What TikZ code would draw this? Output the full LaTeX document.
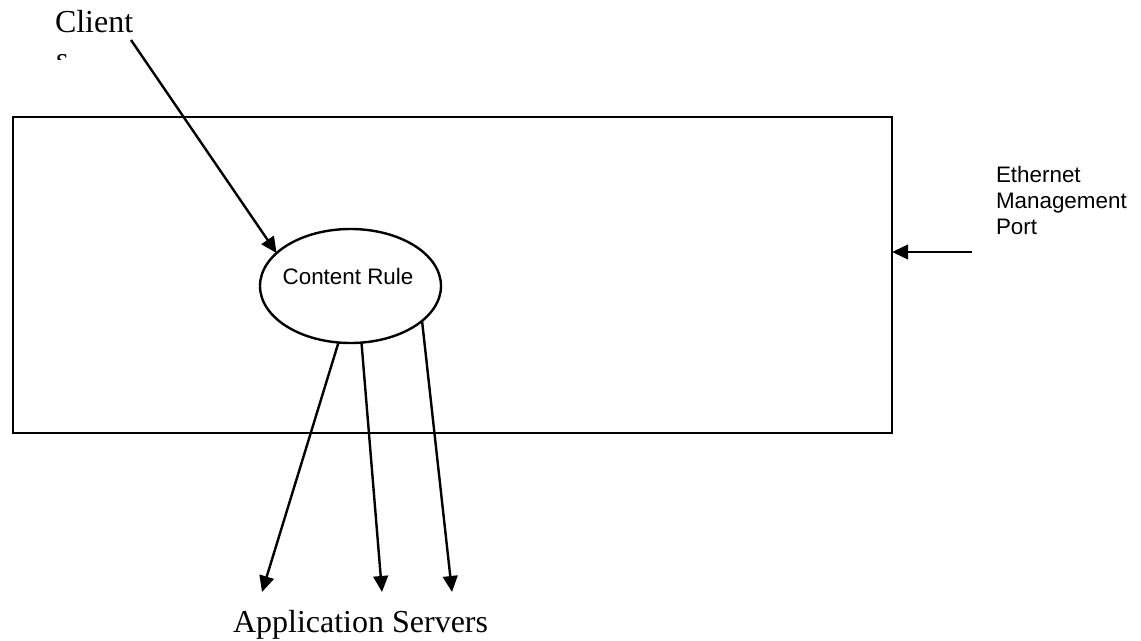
\documentclass[tikz,border=0pt]{standalone}
\usepackage{fontspec}
\setmainfont{Liberation Serif}
\newfontfamily\arialfont{Liberation Sans}
\usetikzlibrary{shapes.geometric,arrows.meta}
\begin{document}
\begin{tikzpicture}[x=0.75pt,y=-0.75pt,
  every node/.style={inner sep=0pt,outer sep=0pt},
  lineobj/.style={line width=1.8pt},
  arr/.style={lineobj,-{Triangle[length=12pt,width=11pt]}},
  serifbig/.style={font=\fontsize{24pt}{28pt}\selectfont},
  sanstext/.style={font=\arialfont\fontsize{16.8pt}{19.5pt}\selectfont}]
\useasboundingbox (0,0) rectangle (1141,641);
% main box
\node[draw,lineobj,rectangle,minimum width=659.5pt,minimum height=237pt] (box) at (452.5,275) {};
% content rule
\node[draw,lineobj,ellipse,minimum width=135.75pt,minimum height=85.5pt] (cr) at (350.5,286) {};
\node[sanstext,anchor=base] (crt) at (348,285) {Content Rule};
% client
\node[serifbig,anchor=base west] (client) at (55,33) {Client};
\begin{scope}
\clip (40,40) rectangle (120,60);
\node[serifbig,anchor=base west] (clients) at (56,70) {s};
\end{scope}
\coordinate (cstart) at (131,40);
\draw[arr] (cstart) -- (cr.156);
% ethernet management port
\node[sanstext,anchor=base west,align=left] (eth) at (996,235) {Ethernet\\Management\\Port};
\coordinate (port) at (972,252);
\draw[arr] (port) -- (port -| box.east);
% application servers
\coordinate (s1) at (262,592);
\coordinate (s2) at (382,592);
\coordinate (s3) at (452,592);
\draw[arr] (cr.258.6) -- (s1);
\draw[arr] (cr.281.4) -- (s2);
\draw[arr] (cr.334) -- (s3);
\node[serifbig,anchor=base west] (apps) at (233,632) {Application Servers};
\end{tikzpicture}
\end{document}
